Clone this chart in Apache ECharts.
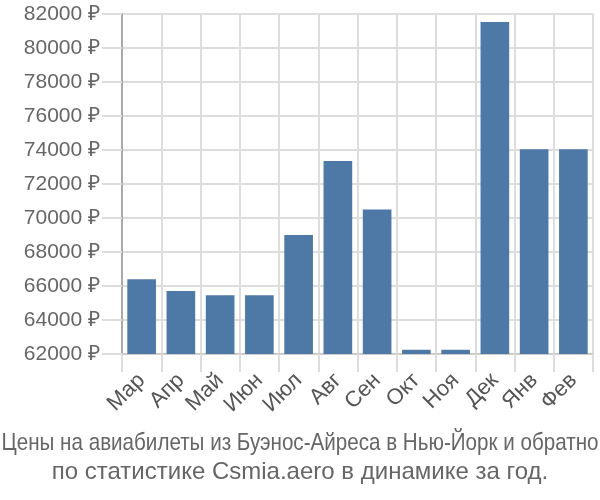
<!DOCTYPE html>
<html>
<head>
<meta charset="utf-8">
<script src="https://cdn.jsdelivr.net/npm/echarts@6/dist/echarts.min.js"></script>
<style>html,body{margin:0;padding:0;background:#fff}#c{width:600px;height:500px}</style>
</head>
<body>
<div id="c"></div>
<script>
const categories = ['Мар','Апр','Май','Июн','Июл','Авг','Сен','Окт','Ноя','Дек','Янв','Фев'];
const prices = [66400, 65700, 65450, 65450, 69000, 73350, 70500, 62250, 62250, 81530, 74050, 74050];
const yMin = 62000, yMax = 82000, yStep = 2000;
const titleLine1 = 'Цены на авиабилеты из Буэнос-Айреса в Нью-Йорк и обратно';
const titleLine2 = 'по статистике Csmia.aero в динамике за год.';

const titleFont = '24px "Liberation Sans", sans-serif';
const ctx = document.createElement('canvas').getContext('2d');
ctx.font = titleFont;
const w1 = ctx.measureText(titleLine1).width;
const fit = Math.min(1, 597 / w1);

const chart = echarts.init(document.getElementById('c'), null, {renderer: 'canvas'});
chart.setOption({
  animation: false,
  backgroundColor: '#fff',
  graphic: [
    {type: 'text', x: 300, y: 455, scaleX: fit, style: {text: titleLine1, font: titleFont, fill: '#666', textAlign: 'center', textVerticalAlign: 'bottom'}},
    {type: 'text', x: 300, y: 484.5, style: {text: titleLine2, font: titleFont, fill: '#666', textAlign: 'center', textVerticalAlign: 'bottom'}}
  ],
  grid: {left: 122, right: 7, top: 14, bottom: 146, containLabel: false},
  xAxis: {
    type: 'category',
    data: categories,
    boundaryGap: true,
    axisLine: {show: true, lineStyle: {color: '#ccc', width: 2}},
    axisTick: {show: true, length: 18, lineStyle: {color: '#ddd', width: 2}},
    splitLine: {show: true, lineStyle: {color: '#ddd', width: 2}},
    axisLabel: {rotate: 45, fontSize: 22, color: '#555', fontFamily: 'Liberation Sans, sans-serif', margin: 23, interval: 0}
  },
  yAxis: {
    type: 'value',
    min: yMin, max: yMax, interval: yStep,
    axisLine: {show: true, lineStyle: {color: '#aaa', width: 2}},
    axisTick: {show: true, length: 20, lineStyle: {color: '#ddd', width: 2}},
    splitLine: {show: true, lineStyle: {color: '#ddd', width: 2}},
    axisLabel: {formatter: function (v) { return v + ' ₽'; }, fontSize: 21, color: '#666', fontFamily: 'Liberation Sans, sans-serif', margin: 22}
  },
  series: [{
    type: 'bar',
    data: prices,
    barCategoryGap: '27%',
    itemStyle: {color: '#4e79a7'}
  }]
});
</script>
</body>
</html>
